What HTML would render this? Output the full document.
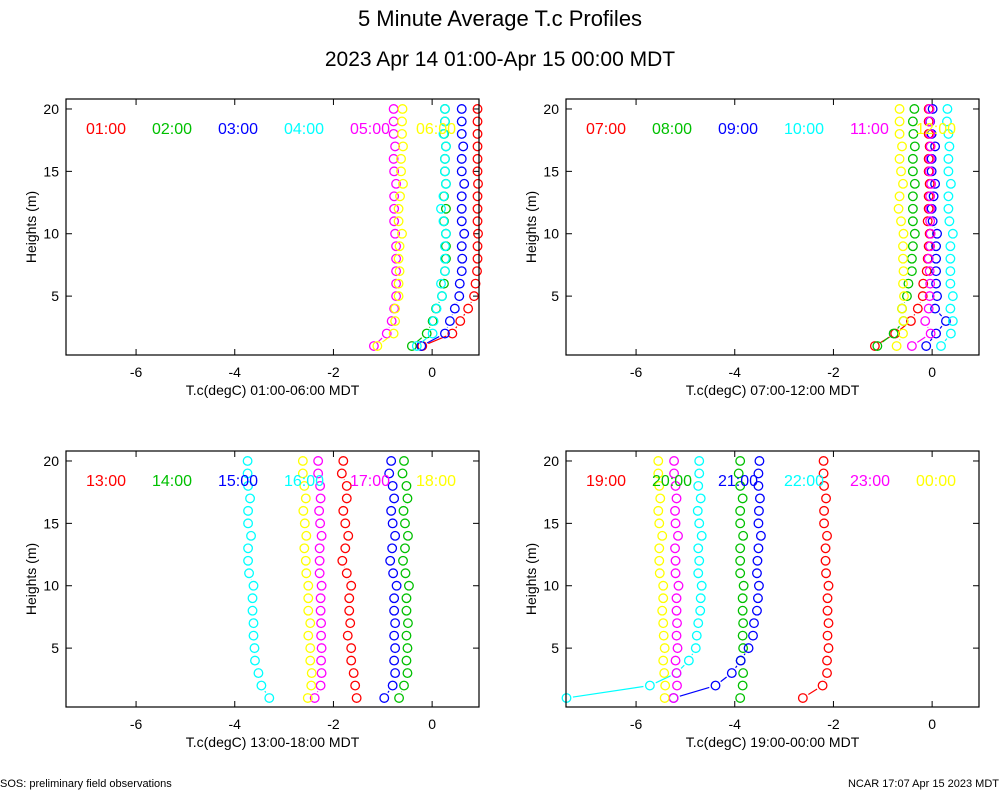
<!DOCTYPE html>
<html><head><meta charset="utf-8"><style>
body{margin:0;background:#fff;}
svg{display:block;font-family:"Liberation Sans",sans-serif;}
</style></head><body>
<svg id="chart" width="1000" height="800" viewBox="0 0 1000 800">
<text x="500" y="26" text-anchor="middle" font-size="22">5 Minute Average T.c Profiles</text>
<text x="500" y="66" text-anchor="middle" font-size="21">2023 Apr 14 01:00-Apr 15 00:00 MDT</text>
<text x="0" y="787" font-size="11">SOS: preliminary field observations</text>
<text x="999" y="787" text-anchor="end" font-size="11">NCAR 17:07 Apr 15 2023 MDT</text>
</svg>
<script>
const heights=[20,19,18,17,16,15,14,13,12,11,10,9,8,7,6,5,4,3,2,1];
const colors=["#ff0000","#00c000","#0000ff","#00ffff","#ff00ff","#ffff00"];
const xTicks=[-6,-4,-2,0];
const yTicks=[5,10,15,20];
const p1Labels=["01:00","02:00","03:00","04:00","05:00","06:00"];
const p2Labels=["07:00","08:00","09:00","10:00","11:00","12:00"];
const p3Labels=["13:00","14:00","15:00","16:00","17:00","18:00"];
const p4Labels=["19:00","20:00","21:00","22:00","23:00","00:00"];
const xTitles=["T.c(degC) 01:00-06:00 MDT","T.c(degC) 07:00-12:00 MDT","T.c(degC) 13:00-18:00 MDT","T.c(degC) 19:00-00:00 MDT"];
// panel 1
const s0100=[0.92,0.92,0.92,0.92,0.92,0.92,0.93,0.92,0.92,0.92,0.93,0.92,0.92,0.91,0.88,0.85,0.73,0.57,0.41,-0.20];
const s0200=[0.26,0.26,0.24,0.28,0.26,0.26,0.28,0.24,0.28,0.24,0.28,0.28,0.28,0.26,0.24,0.20,0.08,0.01,-0.11,-0.41];
const s0300=[0.60,0.60,0.60,0.63,0.60,0.60,0.65,0.60,0.60,0.60,0.65,0.60,0.61,0.60,0.56,0.55,0.46,0.36,0.26,-0.22];
const s0400=[0.26,0.26,0.23,0.28,0.26,0.26,0.28,0.23,0.18,0.23,0.28,0.26,0.26,0.26,0.18,0.20,0.09,0.03,0.01,-0.31];
const s0500=[-0.78,-0.78,-0.78,-0.75,-0.78,-0.77,-0.73,-0.77,-0.77,-0.77,-0.75,-0.73,-0.73,-0.73,-0.73,-0.73,-0.77,-0.82,-0.92,-1.18];
const s0600=[-0.60,-0.61,-0.61,-0.59,-0.63,-0.63,-0.59,-0.65,-0.68,-0.68,-0.61,-0.66,-0.68,-0.66,-0.68,-0.68,-0.75,-0.75,-0.78,-1.11];
// panel 2
const s0700=[-0.07,-0.07,-0.07,-0.05,-0.07,-0.07,-0.05,-0.07,-0.07,-0.09,-0.05,-0.07,-0.09,-0.11,-0.18,-0.19,-0.29,-0.43,-0.75,-1.16];
const s0800=[-0.36,-0.39,-0.38,-0.35,-0.39,-0.39,-0.35,-0.39,-0.39,-0.39,-0.35,-0.39,-0.41,-0.41,-0.48,-0.51,-0.61,-0.58,-0.78,-1.11];
const s0900=[0.01,-0.04,-0.01,0.06,-0.01,-0.01,0.06,0.03,-0.01,0.01,0.10,0.08,0.08,0.08,0.08,0.10,0.06,0.28,0.08,-0.12];
const s1000=[0.31,0.30,0.33,0.35,0.33,0.33,0.38,0.33,0.33,0.35,0.42,0.37,0.37,0.37,0.37,0.42,0.37,0.42,0.38,0.18];
const s1100=[-0.05,-0.05,-0.04,-0.03,-0.04,-0.05,-0.02,-0.04,-0.04,-0.04,-0.03,-0.04,-0.07,-0.05,-0.04,-0.05,-0.07,-0.14,-0.03,-0.41];
const s1200=[-0.66,-0.66,-0.66,-0.61,-0.66,-0.63,-0.59,-0.66,-0.68,-0.63,-0.58,-0.59,-0.59,-0.58,-0.59,-0.57,-0.61,-0.58,-0.59,-0.72];
// panel 3
const s1300=[-1.80,-1.83,-1.73,-1.73,-1.80,-1.76,-1.70,-1.76,-1.82,-1.73,-1.64,-1.68,-1.68,-1.66,-1.71,-1.64,-1.64,-1.59,-1.56,-1.53];
const s1400=[-0.57,-0.60,-0.52,-0.50,-0.58,-0.55,-0.49,-0.55,-0.59,-0.54,-0.47,-0.52,-0.52,-0.49,-0.52,-0.50,-0.52,-0.50,-0.57,-0.67];
const s1500=[-0.83,-0.87,-0.80,-0.77,-0.83,-0.80,-0.75,-0.81,-0.85,-0.79,-0.72,-0.77,-0.77,-0.75,-0.77,-0.75,-0.77,-0.75,-0.80,-0.97];
const s1600=[-3.74,-3.74,-3.73,-3.69,-3.73,-3.73,-3.67,-3.73,-3.73,-3.71,-3.62,-3.64,-3.64,-3.62,-3.62,-3.60,-3.59,-3.52,-3.46,-3.30];
const s1700=[-2.31,-2.31,-2.27,-2.26,-2.29,-2.27,-2.24,-2.28,-2.28,-2.28,-2.24,-2.26,-2.26,-2.25,-2.25,-2.24,-2.25,-2.24,-2.26,-2.38];
const s1800=[-2.62,-2.62,-2.59,-2.56,-2.61,-2.58,-2.55,-2.59,-2.56,-2.55,-2.51,-2.51,-2.51,-2.47,-2.51,-2.47,-2.47,-2.44,-2.45,-2.52];
// panel 4
const s1900=[-2.20,-2.20,-2.19,-2.15,-2.19,-2.19,-2.13,-2.16,-2.16,-2.15,-2.10,-2.12,-2.12,-2.10,-2.12,-2.10,-2.13,-2.13,-2.22,-2.62];
const s2000=[-3.89,-3.92,-3.89,-3.84,-3.89,-3.89,-3.83,-3.89,-3.89,-3.89,-3.82,-3.84,-3.84,-3.83,-3.84,-3.83,-3.88,-3.83,-3.84,-3.89];
const s2100=[-3.50,-3.52,-3.52,-3.49,-3.51,-3.52,-3.47,-3.52,-3.54,-3.55,-3.51,-3.53,-3.55,-3.61,-3.63,-3.72,-3.88,-4.06,-4.39,-5.24];
const s2200=[-4.72,-4.72,-4.74,-4.69,-4.75,-4.72,-4.67,-4.74,-4.72,-4.74,-4.67,-4.69,-4.70,-4.74,-4.77,-4.79,-4.93,-5.18,-5.72,-7.41];
const s2300=[-5.23,-5.23,-5.20,-5.18,-5.21,-5.20,-5.15,-5.21,-5.20,-5.20,-5.14,-5.18,-5.18,-5.17,-5.18,-5.16,-5.20,-5.18,-5.17,-5.24];
const s0000=[-5.55,-5.55,-5.53,-5.51,-5.55,-5.53,-5.47,-5.53,-5.53,-5.52,-5.45,-5.45,-5.47,-5.45,-5.44,-5.42,-5.45,-5.43,-5.41,-5.42];

const svg=document.getElementById('chart');
const NS="http://www.w3.org/2000/svg";
function mk(tag,attrs,parent){const e=document.createElementNS(NS,tag);for(const k in attrs)e.setAttribute(k,attrs[k]);(parent||svg).appendChild(e);return e;}
const XMIN=-7.42,XMAX=0.95,YMIN=0.28,YMAX=20.8;
const panels=[
 {ox:66,oy:99,labels:p1Labels,series:[s0100,s0200,s0300,s0400,s0500,s0600]},
 {ox:566,oy:99,labels:p2Labels,series:[s0700,s0800,s0900,s1000,s1100,s1200]},
 {ox:66,oy:451,labels:p3Labels,series:[s1300,s1400,s1500,s1600,s1700,s1800]},
 {ox:566,oy:451,labels:p4Labels,series:[s1900,s2000,s2100,s2200,s2300,s0000]}
];
const W=413,H=256;
panels.forEach((p,pi)=>{
 const g=mk('g',{});
 
 
 const xs=v=>p.ox+(v-XMIN)/(XMAX-XMIN)*W;
 const ys=v=>p.oy+H-(v-YMIN)/(YMAX-YMIN)*H;
 xTicks.forEach(t=>{
  const x=xs(t);
  mk('line',{x1:x,x2:x,y1:p.oy+H,y2:p.oy+H-6,stroke:'#000','stroke-width':1},g);
  mk('line',{x1:x,x2:x,y1:p.oy,y2:p.oy+6,stroke:'#000','stroke-width':1},g);
  const tl=mk('text',{x:x,y:p.oy+H+22,'text-anchor':'middle','font-size':14},g);
  
  
  tl.textContent=t;
 });
 yTicks.forEach(t=>{
  const y=ys(t);
  mk('line',{x1:p.ox,x2:p.ox+6,y1:y,y2:y,stroke:'#000','stroke-width':1},g);
  mk('line',{x1:p.ox+W,x2:p.ox+W-6,y1:y,y2:y,stroke:'#000','stroke-width':1},g);
  const tl=mk('text',{x:p.ox-7,y:y+5,'text-anchor':'end','font-size':14},g);
  
  
  tl.textContent=t;
 });
 const yt=mk('text',{x:0,y:0,'text-anchor':'middle','font-size':14,transform:`translate(${p.ox-30},${p.oy+H/2}) rotate(-90)`},g);
 
 
 yt.textContent='Heights (m)';
 const xt=mk('text',{x:p.ox+W/2,y:p.oy+H+40,'text-anchor':'middle','font-size':14},g);
 
 
 xt.textContent=xTitles[pi];
 p.series.forEach((s,si)=>{
  const sg=mk('g',{},g);
  
  
  const pts=s.map((v,i)=>[xs(v),ys(heights[i])]);
  for(let i=0;i<pts.length-1;i++){
   const [x1,y1]=pts[i],[x2,y2]=pts[i+1];
   const dx=x2-x1,dy=y2-y1,d=Math.hypot(dx,dy),gap=6.5;
   if(d>2*gap){
    mk('line',{x1:x1+dx/d*gap,y1:y1+dy/d*gap,x2:x2-dx/d*gap,y2:y2-dy/d*gap,stroke:colors[si],'stroke-width':1.2},sg);
   }
  }
  pts.forEach(([x,y])=>{
   const c=mk('circle',{cx:x,cy:y,r:4.3,fill:'none',stroke:colors[si],'stroke-width':1.3},sg);
   
   
  });
 });
 p.labels.forEach((l,li)=>{
  const t=mk('text',{x:p.ox+20+li*66,y:p.oy+35,'font-size':16,fill:colors[li]},g);
  
  
  t.textContent=l;
 });
 mk('rect',{x:p.ox,y:p.oy,width:W,height:H,fill:'none',stroke:'#000','stroke-width':1.2},g);
});
</script>
</body></html>
